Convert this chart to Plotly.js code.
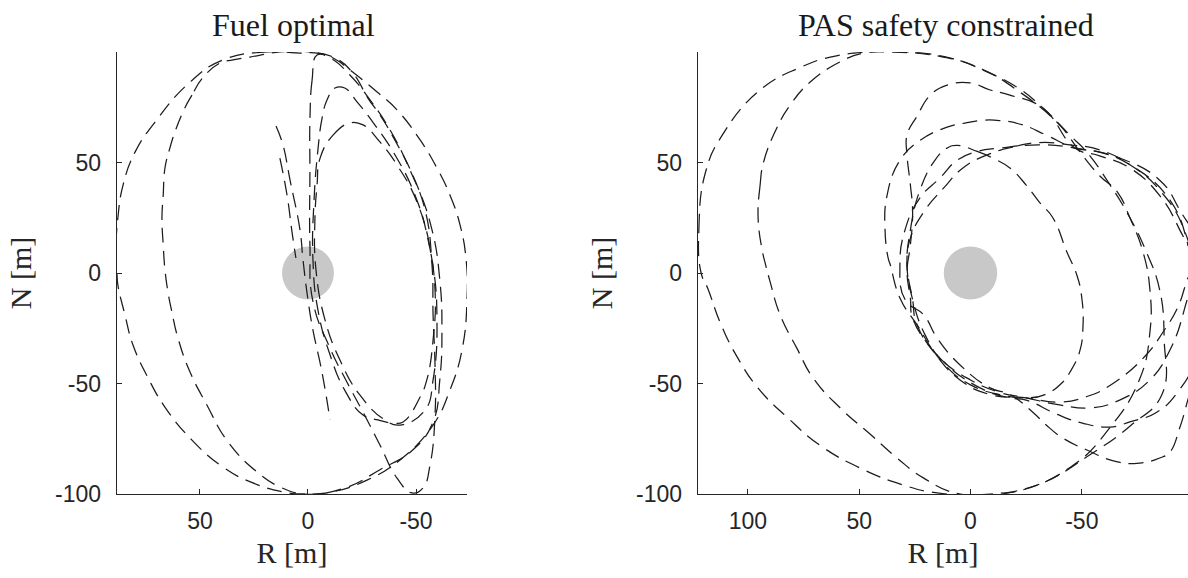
<!DOCTYPE html>
<html>
<head>
<meta charset="utf-8">
<script src="https://cdn.plot.ly/plotly-3.0.1.min.js"></script>
<style>html,body{margin:0;padding:0;background:#fff;}#chart{width:1188px;height:578px;}</style>
</head>
<body>
<div id="chart"></div>
<script>
// ---------- Data (R [m], N [m]) ----------
const panelTitles = ["Fuel optimal", "PAS safety constrained"];
const yTickVals = [50, 0, -50, -100];
const yTickText = ["50", "0", "-50", "-100"];
const xTickValsFuel = [50, 0, -50];
const xTickTextFuel = ["50", "0", "-50"];
const xTickValsPas = [100, 50, 0, -50];
const xTickTextPas = ["100", "50", "0", "-50"];
const keepOutRadius = 12;   // grey keep-out sphere at the target

// Fuel optimal trajectories
const fuel_R1 = [3.7,19,39.4,54.6,70.8,80,85.6,88,88.9,88.4,88,84.7,81,74,66,53.7,39.4,25.5,11.6,1.4,-11.6,-27.3,-42.6,-57.9,-65.7,-71.3,-73.6,-73.2,-70.4,-65.7,-59.7,-51.9,-41.2,-32,-19.4,-11.6,-4.2,3.7];
const fuel_N1 = [99.5,100,96.4,86.4,68.3,54.8,39.8,24.9,9.5,0,-5.4,-19,-32.6,-47.5,-61,-75.6,-87.8,-95,-99,-100,-99,-93.7,-84.6,-68.8,-53,-34.8,-12.2,5.9,21.7,35.3,47.5,60.2,73.8,81.9,91.9,97.3,99.5,99.5];
const fuel_R2 = [49,53.7,57,61.6,63.9,66.2,67,67.6,67,66.2,64.8,63,60.2,54.6,46.8,37,23.6,13,1.4,-17,-33.3,-48.6,-57.9,-61,-62,-61,-57.4,-49.5,-40.3,-33.3,-27.8,-20.8,-12.5,-1,13,26.8,34.7,40.7,49];
const fuel_N2 = [88,80.5,74.7,63.8,56.6,47.5,35.3,24.9,12.7,1.4,-8.6,-17.6,-29.4,-44.8,-59.7,-76.5,-90,-96.8,-100,-97.3,-89,-80,-67.4,-48.4,-25.8,-3,19.5,42,60,71.5,79,90.5,97.3,100,100,97.7,96.4,95,88];
const fuel_R3 = [14.8,11.6,8.3,3.7,2.3,0,-2.3,-6.5,-10.2];
const fuel_N3 = [66.5,58,42,19.5,5.9,-12.2,-25.8,-45,-66.5];
const fuel_R4 = [13,9.7,7.4,5.6];
const fuel_N4 = [52,35.3,18.6,6.8];
const fuel_R5 = [-4.2,-1.9,-0.9,-0.9,-0.9,-2.3,-10.2,-18,-25.5,-33.3,-41.2,-48.1,-53.2,-56.5,-58.8,-58.8,-57.9,-57.4,-54.2,-47.2,-38,-28.7,-19.4,-10.2,-4.2];
const fuel_N5 = [98.6,87.3,69,46.6,12.7,-13,-34,-49.3,-63,-77.8,-92.8,-99.5,-97.3,-86.9,-64.3,-41.6,-19,3.6,28.5,46.6,64.7,78.3,89.6,97.3,98.6];
const fuel_R6 = [-8.8,-12.5,-17,-22.7,-30,-40.3,-49.5,-55.6,-58.8,-57.9,-55,-51.9,-44,-39.4,-32.4,-25.5,-17,-10.2,-4.6,-2.3,-2.8,-4.6,-6.5,-8.8];
const fuel_N6 = [78.3,83.7,83.7,77.4,68.3,53.4,35.3,15,-7.7,-30.3,-48.4,-56.1,-67.4,-67.9,-66.5,-64.3,-53,-37,-16.7,5.9,33,55.7,70,78.3];
const fuel_R7 = [-5.6,-11.6,-19.4,-25.5,-33.3,-41.2,-51,-57.4,-59.7,-57.9,-54.2,-42.6,-35.6,-24,-14.8,-7.9,-3.7,-3.2,-4.2,-5.6];
const fuel_N7 = [52,62.4,67.9,67,59.3,48.9,30.8,5.9,-21.3,-48.4,-62,-68.8,-66.5,-55.2,-39.4,-21.3,1.4,24,39.8,52];

// PAS safety constrained trajectories
const pas_R1 = [121,122,119,111.5,94.5,76.5,63,45,28.5,8,-7.4,-21,-32.5,-44.6,-52,-62.6,-71.6,-79,-85,-87,-86,-72,-54,-30,-9,15,30,48,67.6,82,95.5,104.5,112,118,121];
const pas_N1 = [0,20,45.7,62.4,82.8,93,97.7,100,100,97,91,84,74.7,62.4,55,40,25,9.5,-7.7,-30,-55,-69,-82,-96,-100,-99.5,-96,-89,-78,-65.6,-52,-38.5,-23.5,-7,0];
const pas_R2 = [95.4,94.5,93,87,81,72,58.6,48,36,13.7,-4,-22,-40,-49,-58,-66,-71.6,-77.5,-80.6,-80.6,-76,-62.6,-44.7,-19,4.7,21,33,45,58.6,70.7,78,85.5,90,92,93.4,95.4];
const pas_N2 = [24.9,39.8,50,65.6,76,86.4,95.5,99.5,100,98,92.8,82,67,55,44,36.6,25,9.5,-7.7,-26.7,-48,-70,-88,-99,-100,-92.8,-83.7,-73,-61,-47.5,-34,-19,-4,3.6,9.5,24.9];
const pas_R3 = [0,10.5,18,24,28.5,28.5,27,26,27,28.5,27,26,17,4.7,-8.8,-25,-39,-52,-64,-79,-86.5,-93,-97,-100,-94,-85,-71.6,-58,-47,-32.5,-17.7,-8.8,0];
const pas_N3 = [86,85,80.5,71,62.4,53.4,39.8,27.6,12.7,0.5,-11.3,-20.4,-35,-48.4,-55,-56.5,-58.4,-56,-50,-37,-26.7,-15.8,-4,5,19.5,35,47.5,53,56.5,74.7,80.5,82.8,86];
const pas_R4 = [-34,-23.5,-13,-4.3,1.6,10.5,22.7,31.7,37.5,38.4,37,36,31.7,24,13.7,-4.3,-17.7,-25,-39,-50.6,-62.6,-71.6,-83.7,-93,-101,-104,-98.5,-89.6,-71.6,-58,-47,-34];
const pas_N4 = [62.4,67,69,69,68,66,60,51,35,20,6.8,3.6,-11.3,-23.5,-38.5,-52,-56.5,-57.5,-64,-68,-69.7,-67.4,-63,-54,-39,-15,10,33,49,54.7,56.5,62.4];
const pas_R5 = [-31,-19,-7.4,3.4,12,21,27,28.5,26,24,13.7,0,-13,-25,-40,-54,-67,-80.6,-89.6,-96,-99.5,-96,-85,-71.6,-58,-44.6,-31];
const pas_N5 = [59,57,53.4,47.5,38.5,27.6,15.8,3.6,-12,-23.5,-38.5,-48.4,-54,-56.5,-59.7,-61,-57.5,-48.4,-34.8,-16.7,1.4,19.5,37.5,49,55.7,58,59];
const pas_R6 = [6,-3,-10,-17.7,-25,-31,-37,-43.3,-47.8,-50,-50.5,-49,-44.7,-41.5,-33.5,-25,-13,0,11.5,20.4,26,28.5,27,22.7,16,10.5,6];
const pas_N6 = [57.8,55,52,47.5,39.8,32,25,9.5,-1,-11.3,-24.9,-35.7,-44.8,-49.3,-55,-56.5,-55,-50.6,-41.6,-28,-12,3.6,19.5,37.5,51,56.5,57.8];
const pas_R7 = [-28,-34,-41.5,-52,-66,-76,-85,-89.6,-94,-97,-103,-103,-94,-85,-67,-47,-31,-13,-3,6,13.7,22.7,29.4,31.7,29.4,21,15,4.7,-8.8,-17.7,-28];
const pas_N7 = [-63,-68.8,-74.7,-80,-85.5,-86,-83.7,-81,-70,-59.7,-35,10,28.5,42,52,56.5,58,56.5,55,51,43,34,19.5,3.6,-12,-19,-29.4,-41.6,-52,-55,-63];

// ---------- Traces ----------
const lineStyle = {color: '#1c1c1c', width: 1.25, dash: '15px,8px', shape: 'spline', smoothing: 1.3};
function traj(R, N, xa, ya) {
  return {x: R, y: N, xaxis: xa, yaxis: ya, type: 'scatter', mode: 'lines',
          line: lineStyle, hoverinfo: 'skip', showlegend: false};
}
const fuelSets = [[fuel_R1,fuel_N1],[fuel_R2,fuel_N2],[fuel_R3,fuel_N3],[fuel_R4,fuel_N4],[fuel_R5,fuel_N5],[fuel_R6,fuel_N6],[fuel_R7,fuel_N7]];
const pasSets = [[pas_R1,pas_N1],[pas_R2,pas_N2],[pas_R3,pas_N3],[pas_R4,pas_N4],[pas_R5,pas_N5],[pas_R6,pas_N6],[pas_R7,pas_N7]];
const data = [];
fuelSets.forEach(s => data.push(traj(s[0], s[1], 'x', 'y')));
pasSets.forEach(s => data.push(traj(s[0], s[1], 'x2', 'y2')));

// ---------- Layout ----------
const W = 1188, H = 578;
const axColor = '#262626';
const tickFont = {family: 'Liberation Sans, Arial, sans-serif', size: 23, color: axColor};
const serif = 'Liberation Serif, Times New Roman, serif';
function xAxis(domain, range, vals, text, anchor) {
  return {domain: domain, range: range, anchor: anchor, tickmode: 'array', tickvals: vals, ticktext: text,
          ticks: 'inside', ticklen: 5, tickwidth: 1, tickcolor: axColor, showline: true, linecolor: axColor,
          linewidth: 1.3, mirror: false, showgrid: false, zeroline: false, tickfont: tickFont,
          ticklabelstandoff: 6, automargin: false,
          title: {text: 'R [m]', font: {family: serif, size: 30, color: axColor}, standoff: 9}};
}
function yAxis(domain, anchor) {
  return {domain: domain, range: [-100, 100], anchor: anchor, tickmode: 'array', tickvals: yTickVals, ticktext: yTickText,
          ticks: 'inside', ticklen: 5, tickwidth: 1, tickcolor: axColor, showline: true, linecolor: axColor,
          linewidth: 1.3, mirror: false, showgrid: false, zeroline: false, tickfont: tickFont,
          ticklabelstandoff: 10, automargin: false,
          title: {text: 'N [m]', font: {family: serif, size: 30, color: axColor}, standoff: 14}};
}
const yDom = [(H - 494) / H, (H - 52) / H];
const layout = {
  width: W, height: H, margin: {l: 0, r: 0, t: 0, b: 0},
  paper_bgcolor: '#ffffff', plot_bgcolor: '#ffffff', showlegend: false,
  xaxis: xAxis([117 / W, 467 / W], [88.4, -73.6], xTickValsFuel, xTickTextFuel, 'y'),
  yaxis: yAxis(yDom, 'x'),
  xaxis2: xAxis([698 / W, 1], [122.4, -97.7], xTickValsPas, xTickTextPas, 'y2'),
  yaxis2: yAxis(yDom, 'x2'),
  shapes: [
    {type: 'circle', xref: 'x', yref: 'y', x0: -keepOutRadius, x1: keepOutRadius, y0: -keepOutRadius, y1: keepOutRadius,
     fillcolor: '#c8c8c8', line: {width: 0}, layer: 'below'},
    {type: 'circle', xref: 'x2', yref: 'y2', x0: -keepOutRadius, x1: keepOutRadius, y0: -keepOutRadius, y1: keepOutRadius,
     fillcolor: '#c8c8c8', line: {width: 0}, layer: 'below'}
  ],
  annotations: [
    {text: panelTitles[0], xref: 'paper', yref: 'paper', x: 293 / W, y: (H - 25) / H, xanchor: 'center', yanchor: 'middle',
     showarrow: false, font: {family: serif, size: 32, color: '#1a1a1a'}},
    {text: panelTitles[1], xref: 'paper', yref: 'paper', x: 946 / W, y: (H - 25) / H, xanchor: 'center', yanchor: 'middle',
     showarrow: false, font: {family: serif, size: 32, color: '#1a1a1a'}}
  ]
};
Plotly.newPlot('chart', data, layout, {staticPlot: true, displayModeBar: false});
</script>
</body>
</html>
